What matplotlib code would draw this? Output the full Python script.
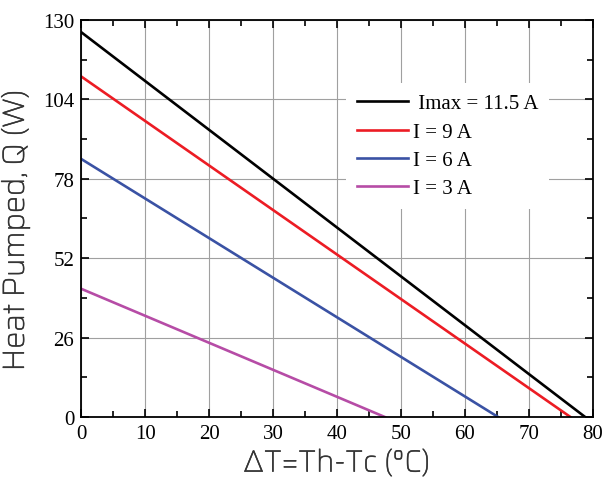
import numpy as np
import matplotlib
matplotlib.use('Agg')
import matplotlib.pyplot as plt
import matplotlib.patheffects as pe
from matplotlib.ticker import MultipleLocator

# end points of each straight line: (dT, Q) at dT=0 and at Q=0
labels = [' Imax = 11.5 A', 'I = 9 A', 'I = 6 A', 'I = 3 A']
q_max = [126, 111.5, 84.5, 42]
dt_max = [78.8, 76.5, 65.2, 47.5]
colors = ['#000000', '#ec1c24', '#3a52a4', '#b64ca6']

x_ticks = [0, 10, 20, 30, 40, 50, 60, 70, 80]
y_ticks = [0, 26, 52, 78, 104, 130]

fig = plt.figure(figsize=(6.05, 4.85), dpi=100)
ax = fig.add_axes([0.134, 0.138, 0.846, 0.819])

for lab, q, dt, c in zip(labels, q_max, dt_max, colors):
    ax.plot([0, dt], [q, 0], color=c, lw=1.9, label=lab)

ax.set_xlim(0, 80)
ax.set_ylim(0, 130)
ax.set_xticks(x_ticks)
ax.set_yticks(y_ticks)
ax.xaxis.set_minor_locator(MultipleLocator(5))
ax.yaxis.set_minor_locator(MultipleLocator(13))
ax.grid(True, which='major', color='#a0a0a0', lw=0.8)
ax.tick_params(which='both', direction='in', top=True, right=True, width=1.2)
ax.tick_params(which='major', length=6, pad=5)
ax.tick_params(which='minor', length=4)
for s in ax.spines.values():
    s.set_linewidth(1.3)

for t in ax.get_xticklabels() + ax.get_yticklabels():
    t.set_family('Liberation Serif')
    t.set_fontsize(15)

# the Saira face here is thin, so thicken the strokes a little
thick = [pe.withStroke(linewidth=0.4, foreground='#333333')]
lab_font = ['Saira', 'DejaVu Sans']
ax.set_xlabel('ΔT=Th-Tc (°C)', family=lab_font, fontsize=22, weight='medium',
              color='#333333', labelpad=4, path_effects=thick)
ax.set_ylabel('Heat Pumped, Q (W)', family=lab_font, fontsize=22, weight='medium',
              color='#333333', path_effects=thick)
ax.yaxis.set_label_coords(-0.1, 0.47)

leg = ax.legend(loc='upper left', bbox_to_anchor=(0.498, 0.866), frameon=True,
                framealpha=1, edgecolor='none', fancybox=False,
                prop={'family': 'Liberation Serif', 'size': 15},
                handlelength=2.45, handletextpad=0.25, labelspacing=0.42,
                borderpad=0.5)

fig.savefig('out.png', dpi=100)
